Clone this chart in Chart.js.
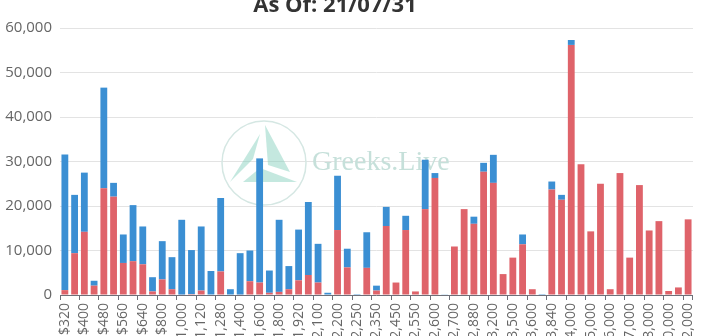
<!DOCTYPE html>
<html>
<head>
<meta charset="utf-8">
<script src="https://cdn.jsdelivr.net/npm/chart.js@4.4.1/dist/chart.umd.min.js"></script>
<style>
  html, body { margin: 0; padding: 0; background: #fff; overflow: hidden; }
  #wrap { position: relative; width: 708px; height: 355px; }
</style>
</head>
<body>
<div id="wrap"><canvas id="oiChart" width="708" height="355"></canvas></div>
<script>
// strike prices (every other one gets a label on the axis)
const strikes = [
  '$320', '$360', '$400', '$440', '$480', '$520', '$560', '$600', '$640', '$720',
  '$800', '$880', '$1,000', '$1,040', '$1,120', '$1,200', '$1,280', '$1,360', '$1,400', '$1,520',
  '$1,600', '$1,680', '$1,800', '$1,840', '$1,920', '$2,000', '$2,100', '$2,150', '$2,200', '$2,240',
  '$2,250', '$2,300', '$2,350', '$2,400', '$2,450', '$2,500', '$2,550', '$2,560', '$2,600', '$2,650',
  '$2,700', '$2,800', '$2,880', '$3,000', '$3,200', '$3,400', '$3,500', '$3,520', '$3,600', '$3,800',
  '$3,840', '$3,920', '$4,000', '$4,400', '$5,000', '$5,500', '$6,000', '$6,500', '$7,000', '$7,500',
  '$8,000', '$9,000', '$10,000', '$11,000', '$12,000'
];

const calls = [
  1100, 9400, 14200, 2100, 24000, 22100, 7200, 7600, 6900, 800,
  3500, 1300, 100, 200, 1000, 0, 5300, 0, 100, 3100,
  2800, 500, 700, 1300, 3300, 4500, 2800, 0, 14600, 6200,
  0, 6100, 1000, 15500, 2800, 14600, 800, 19300, 26300, 0,
  10900, 19300, 16000, 27700, 25200, 4700, 8400, 11400, 1300, 0,
  23700, 21400, 56200, 29400, 14300, 25000, 1300, 27400, 8400, 24700,
  14500, 16600, 900, 1700, 17000
];

const puts = [
  30500, 13100, 13300, 1100, 22600, 3100, 6400, 12600, 8500, 3200,
  8600, 7200, 16800, 9900, 14400, 5400, 16500, 1300, 9300, 6900,
  27900, 5000, 16200, 5200, 11400, 16400, 8700, 500, 12200, 4200,
  200, 8000, 1100, 4300, 0, 3200, 0, 11100, 1100, 150,
  0, 0, 1600, 2000, 6300, 0, 0, 2200, 0, 200,
  1800, 1100, 1100, 0, 0, 0, 0, 0, 0, 0,
  0, 0, 0, 0, 0
];

const yMax = 60000;
const yStep = 10000;

const RED = '#df636a';
const BLUE = '#3b8fd3';
const AXIS = '#6e7079';

Chart.defaults.font.family = '"Open Sans", sans-serif';

// date line at the top of the chart
const headerText = {
  id: 'headerText',
  afterDraw(chart) {
    const { ctx } = chart;
    ctx.save();
    ctx.font = 'bold 22px "Open Sans", sans-serif';
    ctx.fillStyle = '#333';
    ctx.textAlign = 'center';
    ctx.textBaseline = 'alphabetic';
    ctx.fillText('As Of: 21/07/31', 335, 12);
    ctx.restore();
  }
};

// faint logo + name behind the bars
const watermark = {
  id: 'watermark',
  beforeDatasetsDraw(chart) {
    const { ctx } = chart;
    const cx = 264, cy = 163;
    ctx.save();
    ctx.strokeStyle = '#d5e7e3';
    ctx.lineWidth = 1.5;
    ctx.beginPath();
    ctx.arc(cx, cy, 42, 0, Math.PI * 2);
    ctx.stroke();

    ctx.fillStyle = 'rgba(125, 205, 185, 0.45)';
    const tris = [
      [[cx - 4, cy - 29], [cx - 34, cy + 19], [cx - 11, cy - 4]],
      [[cx + 1, cy - 38], [cx + 26, cy + 9], [cx + 4, cy + 2]],
      [[cx - 21, cy + 19], [cx + 33, cy + 19], [cx - 4, cy + 5]]
    ];
    tris.forEach(t => {
      ctx.beginPath();
      ctx.moveTo(t[0][0], t[0][1]);
      ctx.lineTo(t[1][0], t[1][1]);
      ctx.lineTo(t[2][0], t[2][1]);
      ctx.closePath();
      ctx.fill();
    });

    ctx.font = '28px "Liberation Serif", serif';
    ctx.fillStyle = '#c6e0da';
    ctx.textAlign = 'left';
    ctx.textBaseline = 'alphabetic';
    ctx.fillText('Greeks.Live', 312, 170);
    ctx.restore();
  }
};

new Chart(document.getElementById('oiChart'), {
  type: 'bar',
  data: {
    labels: strikes,
    datasets: [
      { label: 'Calls', data: calls, backgroundColor: RED, barPercentage: 0.7, categoryPercentage: 1 },
      { label: 'Puts', data: puts, backgroundColor: BLUE, barPercentage: 0.7, categoryPercentage: 1 }
    ]
  },
  options: {
    responsive: false,
    animation: false,
    layout: { padding: { top: 28, right: 10, left: 0, bottom: 0 } },
    plugins: { legend: { display: false }, tooltip: { enabled: false } },
    scales: {
      x: {
        stacked: true,
        offset: true,
        grid: {
          offset: true,
          drawOnChartArea: false,
          tickLength: 5,
          color: ctx => (ctx.index === undefined || ctx.index % 2 === 0) ? AXIS : 'rgba(0,0,0,0)'
        },
        border: { display: true, color: AXIS },
        ticks: {
          autoSkip: false,
          minRotation: 90,
          maxRotation: 90,
          padding: 3,
          color: '#666',
          font: { size: 14 },
          callback: (v, i) => i % 2 === 0 ? strikes[i] : ''
        },
        afterFit: s => { s.height = 60; }
      },
      y: {
        stacked: true,
        min: 0,
        max: yMax,
        border: { display: false },
        grid: { color: '#e3e3e3', drawTicks: false },
        ticks: {
          stepSize: yStep,
          padding: 8,
          color: '#666',
          font: { size: 15 },
          callback: v => v.toLocaleString('en-US')
        },
        afterFit: s => { s.width = 60; }
      }
    }
  },
  plugins: [watermark, headerText]
});
</script>
</body>
</html>
